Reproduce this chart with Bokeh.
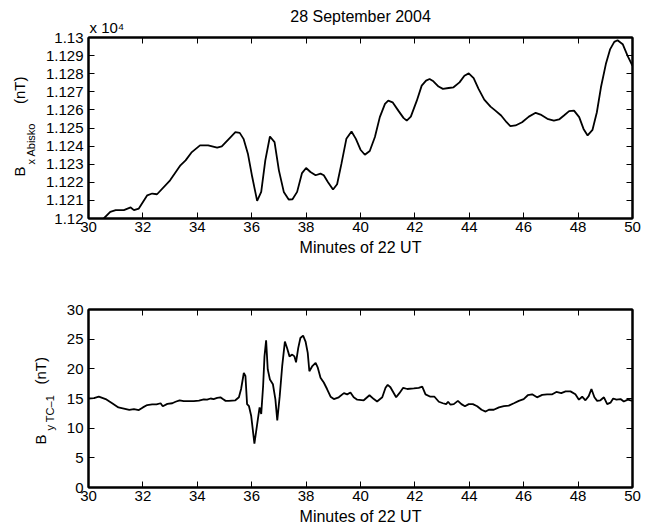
from bokeh.plotting import figure
from bokeh.layouts import column
from bokeh.models import Range1d, FixedTicker, LinearAxis, Title, CustomJSTickFormatter
from bokeh.embed import file_html
from bokeh.resources import INLINE

# ---------------- data ----------------
title_text = "28 September 2004"
x_label = "Minutes of 22 UT"
x_ticks = [30, 32, 34, 36, 38, 40, 42, 44, 46, 48, 50]

# Top panel: Bx Abisko (nT)
abisko_minutes = [30.56, 30.8, 31.0, 31.3, 31.55, 31.67, 31.85, 32.16, 32.34, 32.52,
                  33.0, 33.38, 33.57, 33.8, 34.1, 34.4, 34.73, 34.9, 35.2, 35.4,
                  35.56, 35.7, 35.86, 36.02, 36.2, 36.35, 36.5, 36.67, 36.84, 37.0,
                  37.18, 37.36, 37.5, 37.67, 37.85, 38.0, 38.16, 38.35, 38.53, 38.65,
                  38.8, 38.99, 39.14, 39.3, 39.48, 39.67, 39.83, 40.0, 40.16, 40.34,
                  40.53, 40.71, 40.9, 41.02, 41.18, 41.39, 41.58, 41.7, 41.85, 42.07,
                  42.25, 42.41, 42.54, 42.68, 42.87, 43.03, 43.24, 43.42, 43.64, 43.82,
                  43.98, 44.16, 44.34, 44.55, 44.78, 44.96, 45.17, 45.37, 45.51, 45.7,
                  45.94, 46.19, 46.44, 46.62, 46.87, 47.11, 47.3, 47.48, 47.67, 47.85,
                  48.04, 48.2, 48.35, 48.53, 48.69, 48.84, 49.02, 49.18, 49.33, 49.45,
                  49.64, 49.82, 50.0]
abisko_bx = [11200.0, 11203.7, 11204.6, 11204.6, 11206.1, 11204.6, 11205.5, 11212.8, 11213.8, 11213.4,
             11221.1, 11229.4, 11232.1, 11236.7, 11240.4, 11240.4, 11239.1, 11239.8, 11244.6, 11247.7,
             11247.3, 11244.0, 11235.8, 11222.9, 11209.7, 11214.7, 11232.1, 11245.3, 11242.2, 11226.6,
             11214.7, 11210.5, 11210.6, 11214.7, 11225.1, 11227.9, 11225.7, 11223.9, 11224.8, 11223.9,
             11220.2, 11216.0, 11218.9, 11230.3, 11244.0, 11248.1, 11244.0, 11238.0, 11235.2, 11237.3,
             11245.0, 11256.0, 11263.3, 11265.1, 11264.2, 11259.6, 11255.6, 11254.1, 11256.3, 11265.1,
             11273.4, 11276.2, 11277.1, 11275.8, 11272.9, 11271.6, 11272.1, 11272.5, 11275.2, 11278.9,
             11280.2, 11277.6, 11271.6, 11265.7, 11261.8, 11259.6, 11256.9, 11253.2, 11251.0, 11251.4,
             11253.2, 11256.3, 11258.4, 11257.4, 11255.1, 11254.1, 11254.7, 11256.9, 11259.3, 11259.6,
             11256.0, 11249.5, 11245.9, 11249.0, 11258.7, 11272.5, 11285.3, 11293.6, 11297.6, 11298.5,
             11296.3, 11289.9, 11284.4]
abisko_range = (11200, 11300)
abisko_ticks = [11200, 11210, 11220, 11230, 11240, 11250, 11260, 11270, 11280, 11290, 11300]
abisko_tick_labels = ["1.12", "1.121", "1.122", "1.123", "1.124", "1.125",
                      "1.126", "1.127", "1.128", "1.129", "1.13"]
abisko_scale_note = "x 10\u2074"
abisko_label_main = ("B", "(nT)")
abisko_label_sub = "x Abisko"

# Bottom panel: By TC-1 (nT)
tc1_minutes = [30.0, 30.2, 30.38, 30.63, 30.87, 31.1, 31.3, 31.5, 31.67, 31.85,
               32.0, 32.16, 32.34, 32.5, 32.65, 32.73, 32.9, 33.08, 33.2, 33.35,
               33.5, 33.7, 33.87, 34.06, 34.24, 34.36, 34.49, 34.6, 34.73, 34.85,
               34.94, 35.04, 35.16, 35.4, 35.53, 35.61, 35.71, 35.77, 35.83, 35.9,
               35.98, 36.1, 36.23, 36.29, 36.35, 36.42, 36.47, 36.53, 36.59, 36.67,
               36.78, 36.87, 36.94, 37.03, 37.12, 37.22, 37.3, 37.39, 37.49, 37.57,
               37.63, 37.71, 37.79, 37.89, 37.98, 38.06, 38.12, 38.22, 38.35, 38.43,
               38.53, 38.65, 38.77, 38.9, 39.02, 39.2, 39.39, 39.51, 39.63, 39.75,
               39.88, 40.12, 40.33, 40.49, 40.61, 40.8, 40.92, 41.0, 41.1, 41.2,
               41.31, 41.43, 41.57, 41.72, 41.96, 42.14, 42.27, 42.39, 42.57, 42.72,
               42.88, 43.03, 43.15, 43.22, 43.31, 43.43, 43.58, 43.71, 43.84, 43.98,
               44.13, 44.29, 44.45, 44.6, 44.72, 44.9, 45.09, 45.27, 45.45, 45.64,
               45.82, 46.0, 46.15, 46.31, 46.49, 46.68, 46.86, 47.05, 47.2, 47.38,
               47.54, 47.72, 47.9, 48.03, 48.15, 48.27, 48.39, 48.49, 48.6, 48.7,
               48.82, 48.95, 49.07, 49.19, 49.29, 49.41, 49.56, 49.68, 49.83, 50.0]
tc1_by = [15.0, 15.05, 15.3, 14.9, 14.2, 13.5, 13.3, 13.1, 13.2, 13.05,
          13.5, 13.9, 14.0, 14.0, 14.2, 13.7, 14.1, 14.2, 14.45, 14.7,
          14.55, 14.55, 14.55, 14.65, 14.85, 14.8, 15.0, 14.9, 15.1, 15.2,
          14.9, 14.6, 14.6, 14.7, 15.2, 16.6, 19.3, 18.8, 14.05, 13.7,
          12.1, 7.4, 11.6, 13.5, 12.4, 17.1, 22.1, 24.8, 19.9, 18.2,
          17.4, 14.9, 11.3, 15.4, 20.4, 24.6, 23.5, 22.1, 22.4, 22.1,
          21.1, 23.5, 25.2, 25.6, 24.6, 22.7, 19.6, 20.4, 21.0, 20.2,
          18.5, 17.7, 16.6, 15.3, 14.9, 15.2, 15.9, 15.7, 16.0, 15.2,
          14.8, 14.7, 15.55, 14.9, 14.5, 15.2, 16.8, 17.3, 16.9, 16.1,
          15.2, 15.9, 16.8, 16.6, 16.7, 16.8, 17.0, 15.7, 15.3, 15.3,
          14.45, 14.2, 14.05, 14.45, 13.95, 14.05, 14.6, 14.05, 13.7, 14.05,
          14.05, 13.7, 13.1, 12.8, 13.1, 13.1, 13.5, 13.7, 13.8, 14.2,
          14.6, 14.9, 15.55, 15.7, 15.2, 15.6, 15.7, 15.7, 16.1, 15.9,
          16.2, 16.2, 15.7, 14.8, 15.3, 14.7, 15.4, 16.6, 15.2, 14.6,
          14.7, 15.2, 14.05, 14.3, 15.0, 14.8, 14.9, 14.5, 14.8, 14.6]
tc1_range = (0, 30)
tc1_ticks = [0, 5, 10, 15, 20, 25, 30]
tc1_label_main = ("B", "(nT)")
tc1_label_sub = "y TC\u20131"

# ---------------- styling ----------------
FONT = "Liberation Sans"
TICK_SIZE = "15px"
FIG_W = 642
BL, BR = 88, 10
NBSP = "\u00a0"


def style_axis(ax):
    ax.axis_line_color = "black"
    ax.axis_line_width = 2
    ax.major_tick_in = 6
    ax.major_tick_out = 0
    ax.major_tick_line_color = "black"
    ax.major_tick_line_width = 1
    ax.minor_tick_line_color = None
    ax.major_label_text_font = FONT
    ax.major_label_text_font_size = TICK_SIZE
    ax.major_label_text_color = "black"


def side_title(text, size, valign, offset, standoff):
    return Title(text=text, align="left", vertical_align=valign,
                 offset=offset, standoff=standoff,
                 text_font=FONT, text_font_size=size,
                 text_font_style="normal", text_color="black")


def make_panel(height, top, bottom, yrange, yticks, xs, ys,
               sub_label, sub_offset, sub_standoff, spacer_standoff,
               main_label, main_gap, main_offset, main_standoff, overrides=None):
    p = figure(width=FIG_W, height=height, output_backend="svg", toolbar_location=None,
               x_range=Range1d(30, 50), y_range=Range1d(*yrange),
               min_border_left=BL, min_border_right=BR,
               min_border_top=top, min_border_bottom=bottom)
    p.xgrid.visible = False
    p.ygrid.visible = False
    p.outline_line_color = "black"
    p.outline_line_width = 2
    p.background_fill_color = "white"
    p.border_fill_color = "white"

    p.xaxis.ticker = FixedTicker(ticks=x_ticks)
    p.yaxis.ticker = FixedTicker(ticks=yticks)
    if overrides:
        p.yaxis.major_label_overrides = overrides
    for ax in p.xaxis:
        style_axis(ax)
        ax.major_label_standoff = 3
        ax.axis_label = x_label
        ax.axis_label_standoff = 4
        ax.axis_label_text_font = FONT
        ax.axis_label_text_font_size = "16px"
        ax.axis_label_text_font_style = "normal"
        ax.axis_label_text_color = "black"
    for ax in p.yaxis:
        style_axis(ax)
        ax.major_label_standoff = 5

    # y label built from rotated side titles: spacer, subscript, then "B ... (nT)"
    if spacer_standoff is not None:
        p.add_layout(side_title(NBSP, "1px", "top", 0, spacer_standoff), "left")
    p.add_layout(side_title(sub_label, "11px", "top", sub_offset, sub_standoff), "left")
    p.add_layout(side_title(main_label[0] + NBSP * main_gap + main_label[1], "15px",
                            "bottom", main_offset, main_standoff), "left")

    empty = CustomJSTickFormatter(code="return ''")
    top_ax = LinearAxis(ticker=FixedTicker(ticks=x_ticks), formatter=empty)
    style_axis(top_ax)
    top_ax.major_label_standoff = 0
    top_ax.major_label_text_font_size = "0px"
    p.add_layout(top_ax, "above")
    right_ax = LinearAxis(ticker=FixedTicker(ticks=yticks), formatter=empty)
    style_axis(right_ax)
    right_ax.major_label_standoff = 0
    right_ax.major_label_text_font_size = "0px"
    p.add_layout(right_ax, "right")

    p.line(xs, ys, line_color="black", line_width=1.8)
    return p


# Top panel (canvas 0..268, frame 37..218)
p1 = make_panel(268, 37, 50, abisko_range, abisko_ticks, abisko_minutes, abisko_bx,
                abisko_label_sub, 54, 8, None,
                abisko_label_main, 15, 42, -15,
                overrides=dict(zip(abisko_ticks, abisko_tick_labels)))
p1.add_layout(Title(text=abisko_scale_note, align="left", vertical_align="top",
                    offset=1, standoff=0, text_font=FONT, text_font_size="15px",
                    text_font_style="normal", text_color="black"), "above")
p1.title.text = title_text
p1.title.align = "center"
p1.title.vertical_align = "bottom"
p1.title.text_font = FONT
p1.title.text_font_size = "16px"
p1.title.text_font_style = "normal"
p1.title.text_color = "black"
p1.title.standoff = -12

# Bottom panel (canvas 268..527, frame 309..490)
p2 = make_panel(259, 41, 37, tc1_range, tc1_ticks, tc1_minutes, tc1_by,
                tc1_label_sub, 57, -2, 4,
                tc1_label_main, 12, 43, -8)

layout = column(p1, p2, spacing=0)
open("out.html", "w").write(file_html(layout, INLINE))
